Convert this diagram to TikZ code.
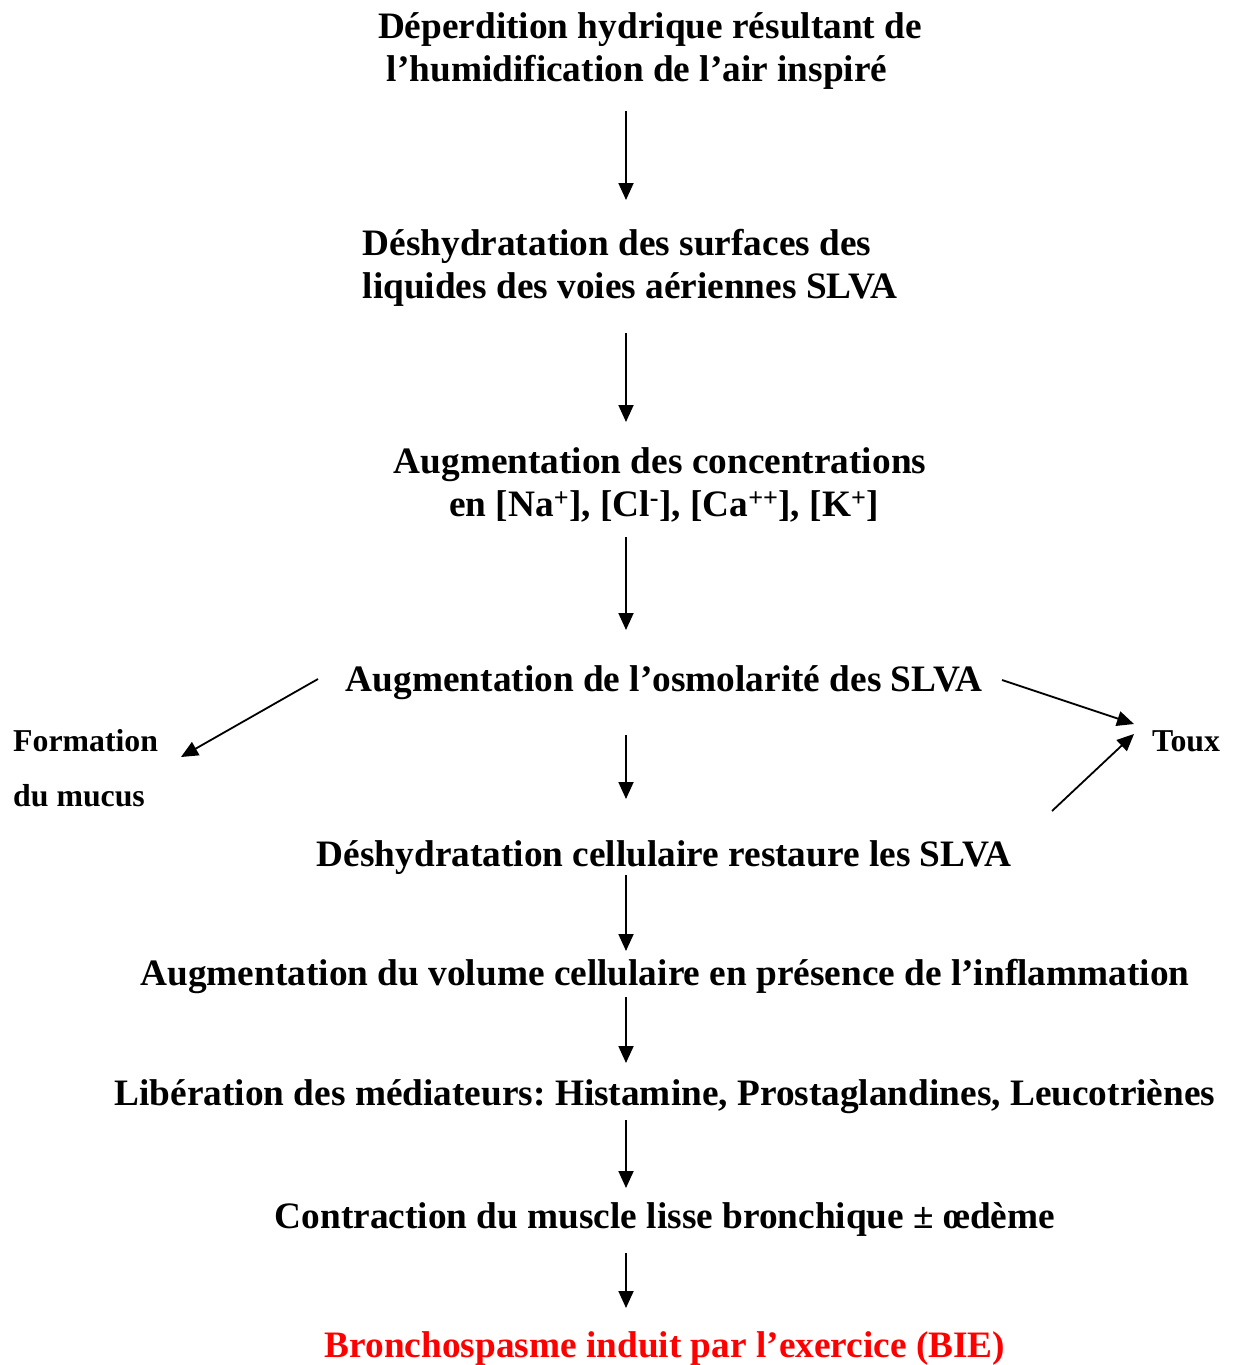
\documentclass[tikz,border=0pt]{standalone}
\usepackage{fontspec}
\setmainfont{Liberation Serif}[Ligatures={TeX,NoCommon}]
\usetikzlibrary{arrows.meta}
\definecolor{bred}{RGB}{255,0,0}
\frenchspacing
\tikzset{
  mainline/.style={anchor=base, inner sep=0pt, font=\bfseries\fontsize{37.3}{43}\selectfont},
  sidelabel/.style={anchor=base west, inner sep=0pt, font=\bfseries\fontsize{31.8}{55}\selectfont},
  arr/.style={line width=1.8pt, -{Triangle[length=17pt,width=15pt]}}
}
\begin{document}
\begin{tikzpicture}[x=1pt,y=-1pt]
\useasboundingbox (0,0) rectangle (1234,1365);
% texts
\node[mainline] (n1a) at (650,38) {Déperdition hydrique résultant de};
\node[mainline] (n1b) at (637,81) {l’humidification de l’air inspiré};
\node[mainline] (n2a) at (617,255) {Déshydratation des surfaces des};
\node[mainline] (n2b) at (630,298) {liquides des voies aériennes SLVA};
\node[mainline] (n3a) at (660,473) {Augmentation des concentrations};
\node[mainline] (n3b) at (664,516) {en [Na\textsuperscript{+}], [Cl\textsuperscript{-}], [Ca\textsuperscript{++}], [K\textsuperscript{+}]};
\node[mainline] (n4) at (664,691) {Augmentation de l’osmolarité des SLVA};
\node[sidelabel] (fa) at (13,751) {Formation};
\node[sidelabel] (fb) at (13,806) {du mucus};
\node[sidelabel] (toux) at (1152,751) {Toux};
\node[mainline] (n5) at (664,866) {Déshydratation cellulaire restaure les SLVA};
\node[mainline] (n6) at (665,985) {Augmentation du volume cellulaire en présence de l’inflammation};
\node[mainline] (n7) at (665,1105) {Libération des médiateurs: Histamine, Prostaglandines, Leucotriènes};
\node[mainline] (n8) at (665,1228) {Contraction du muscle lisse bronchique ± œdème};
\node[mainline, text=bred] (n9) at (665,1357) {Bronchospasme induit par l’exercice (BIE)};
% connector end points
\coordinate (a1s) at (626,111); \coordinate (a1e) at (626,200);
\coordinate (a2s) at (626,333); \coordinate (a2e) at (626,422);
\coordinate (a3s) at (626,537); \coordinate (a3e) at (626,630);
\coordinate (a4s) at (626,735); \coordinate (a4e) at (626,799);
\coordinate (a5s) at (626,875); \coordinate (a5e) at (626,951);
\coordinate (a6s) at (626,997); \coordinate (a6e) at (626,1063);
\coordinate (a7s) at (626,1120); \coordinate (a7e) at (626,1188);
\coordinate (a8s) at (626,1253); \coordinate (a8e) at (626,1308);
\coordinate (m1s) at (318,679); \coordinate (m1e) at (181,757);
\coordinate (t1s) at (1002,680); \coordinate (t1e) at (1134,724);
\coordinate (t2s) at (1052,811); \coordinate (t2e) at (1134,734);
% connectors
\draw[arr] (a1s) -- (a1e);
\draw[arr] (a2s) -- (a2e);
\draw[arr] (a3s) -- (a3e);
\draw[arr] (a4s) -- (a4e);
\draw[arr] (a5s) -- (a5e);
\draw[arr] (a6s) -- (a6e);
\draw[arr] (a7s) -- (a7e);
\draw[arr] (a8s) -- (a8e);
\draw[arr] (m1s) -- (m1e);
\draw[arr] (t1s) -- (t1e);
\draw[arr] (t2s) -- (t2e);
\end{tikzpicture}
\end{document}
